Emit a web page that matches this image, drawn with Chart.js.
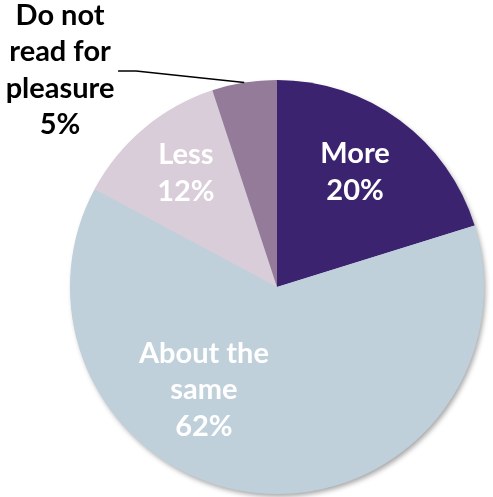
<!DOCTYPE html>
<html>
<head>
<meta charset="utf-8">
<script src="https://cdn.jsdelivr.net/npm/chart.js@4.4.1/dist/chart.umd.min.js"></script>
<style>
  html, body { margin: 0; padding: 0; background: #fff; }
  #wrap { width: 493px; height: 497px; position: relative; }
</style>
</head>
<body>
<div id="wrap"><canvas id="myPie"></canvas></div>
<script>
// slices, clockwise from 12 o'clock
const categories = ["More", "About the same", "Less", "Do not read for pleasure"];
const percentValues = [20, 62, 12, 5];
const labelLines = [
    ["More", "20%"],
    ["About the", "same", "62%"],
    ["Less", "12%"],
    ["Do not", "read for", "pleasure", "5%"],
];
const sliceColors = ["#3b2370", "#bfd0db", "#d8cdd8", "#947b99"];

// where each label block sits, in units of the pie radius from the centre (first baseline)
const labelSpots = [
    { ux: 0.377, uy: -0.599, color: "#ffffff" },
    { ux: -0.353, uy: 0.367, color: "#ffffff" },
    { ux: -0.440, uy: -0.594, color: "#ffffff" },
    { ux: -1.048, uy: -1.266, color: "#000000", leader: true },
];

const pieShadow = {
    id: "pieShadow",
    beforeDatasetsDraw(chart) {
        const arc = chart.getDatasetMeta(0).data[0];
        if (!arc) return;
        const c = chart.ctx;
        c.save();
        c.shadowColor = "rgba(0,0,0,0.35)";
        c.shadowBlur = 5;
        c.shadowOffsetX = 2;
        c.shadowOffsetY = 3;
        c.fillStyle = "#bfd0db";
        c.beginPath();
        c.arc(arc.x, arc.y, arc.outerRadius - 0.5, 0, Math.PI * 2);
        c.fill();
        c.restore();
    },
};

const sliceLabels = {
    id: "sliceLabels",
    afterDatasetsDraw(chart) {
        const c = chart.ctx;
        const arcs = chart.getDatasetMeta(0).data;
        c.save();
        c.font = "bold 29px Lato";
        c.textAlign = "center";
        c.textBaseline = "alphabetic";
        arcs.forEach((arc, i) => {
            const r = arc.outerRadius;
            const spot = labelSpots[i];
            const x = arc.x + spot.ux * r;
            const y0 = arc.y + spot.uy * r;
            c.fillStyle = spot.color;
            labelLines[i].forEach((line, k) => {
                c.fillText(line, x, y0 + k * 36.5);
            });
            if (spot.leader) {
                const mid = (arc.startAngle + arc.endAngle) / 2;
                const ex = arc.x + Math.cos(mid) * r;
                const ey = arc.y + Math.sin(mid) * r;
                c.strokeStyle = "#000";
                c.lineWidth = 1.5;
                c.beginPath();
                c.moveTo(x + 58, y0 + 46);
                c.lineTo(x + 76, y0 + 46);
                c.lineTo(ex, ey);
                c.stroke();
            }
        });
        c.restore();
    },
};

new Chart(document.getElementById("myPie"), {
    type: "pie",
    data: {
        labels: categories,
        datasets: [
            {
                data: percentValues,
                backgroundColor: sliceColors,
                borderWidth: 0,
            },
        ],
    },
    options: {
        responsive: true,
        maintainAspectRatio: false,
        animation: false,
        layout: { padding: { left: 70, right: 9, top: 80, bottom: 3 } },
        plugins: {
            legend: { display: false },
            tooltip: { enabled: false },
        },
    },
    plugins: [pieShadow, sliceLabels],
});
</script>
</body>
</html>
